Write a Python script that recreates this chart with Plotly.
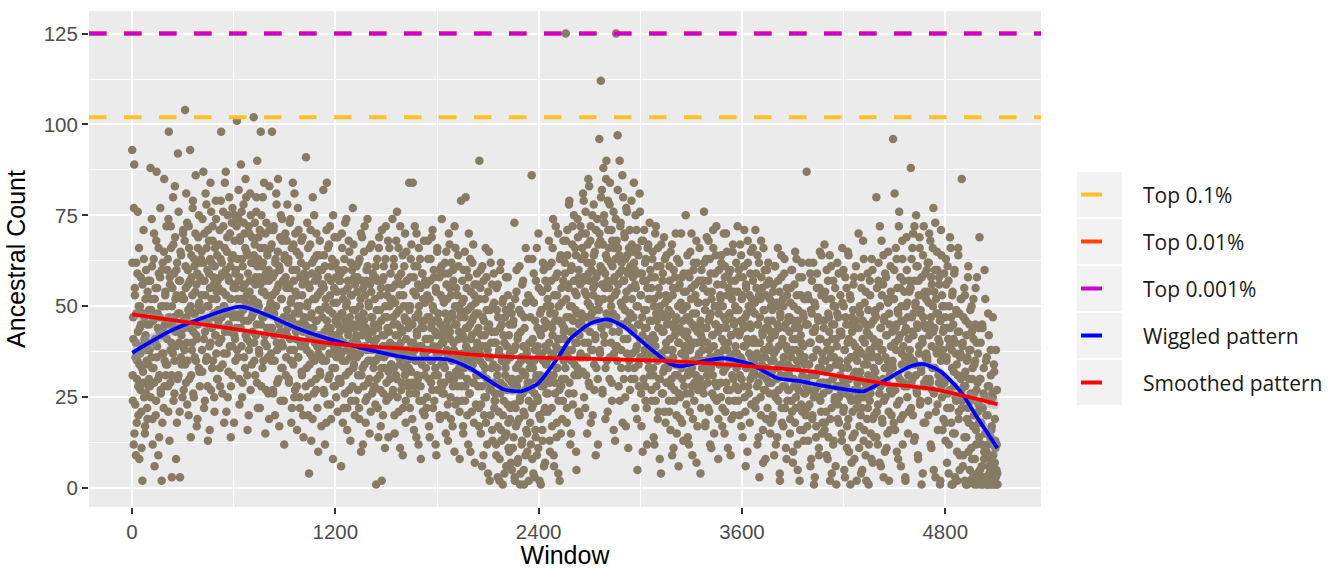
import plotly.graph_objects as go

# ---------------- data ----------------
# Ancestral count for sampled windows 1, 4, 7, ...
count_a = [
    93, 31, 47, 12, 89, 55, 23, 40, 62, 18, 35, 76, 28, 50, 8, 44, 37, 58, 21, 33, 2, 48, 29, 63, 41, 15, 52, 26, 38, 45, 19, 57, 34, 30,
    45, 28, 88, 52, 36, 61, 19, 47, 33, 70, 6, 41, 55, 24, 87, 39, 48, 30, 66, 14, 43, 58, 27, 50, 2, 37, 62, 44, 22, 85, 35, 53, 31, 46,
    50, 34, 63, 21, 98, 45, 58, 29, 72, 40, 3, 55, 37, 67, 47, 26, 83, 52, 39, 60, 18, 44, 92, 31, 57, 48, 3, 65, 36, 42, 53, 25, 70, 46,
    52, 38, 104, 61, 29, 47, 73, 35, 56, 20, 66, 44, 93, 50, 31, 58, 40, 77, 26, 48, 63, 36, 54, 86, 42, 17, 59, 45, 69, 33, 51, 28, 62, 46,
    49, 65, 32, 57, 87, 41, 70, 24, 53, 46, 78, 36, 60, 13, 50, 68, 39, 55, 84, 27, 62, 44, 72, 35, 58, 48, 21, 66, 42, 74, 52, 30, 57, 45,
    55, 40, 71, 28, 63, 98, 47, 59, 34, 76, 50, 18, 66, 43, 87, 53, 37, 69, 25, 58, 45, 80, 39, 61, 14, 52, 73, 31, 64, 48, 56, 42, 75, 35,
    60, 44, 101, 52, 36, 74, 57, 23, 68, 48, 89, 39, 63, 29, 55, 78, 46, 70, 33, 85, 51, 65, 41, 16, 59, 72, 38, 54, 81, 27, 62, 47, 69, 43,
    52, 102, 40, 67, 31, 58, 76, 45, 90, 22, 63, 50, 37, 71, 56, 98, 28, 61, 47, 80, 35, 54, 66, 42, 15, 59, 73, 39, 64, 49, 26, 57, 83, 44,
    48, 66, 35, 98, 53, 27, 71, 42, 59, 20, 63, 50, 78, 38, 55, 85, 30, 61, 45, 69, 24, 52, 40, 74, 33, 57, 47, 12, 64, 43, 58, 36, 68, 49,
    44, 62, 30, 55, 73, 38, 51, 18, 66, 46, 84, 34, 57, 25, 48, 70, 41, 60, 28, 53, 77, 36, 45, 64, 22, 50, 39, 68, 31, 56, 43, 14, 59, 47,
    40, 58, 91, 33, 50, 25, 66, 44, 4, 55, 37, 71, 29, 48, 62, 19, 52, 41, 75, 35, 57, 46, 27, 64, 39, 53, 10, 60, 42, 68, 31, 49, 36, 56,
    47, 35, 82, 55, 26, 61, 40, 52, 18, 84, 44, 66, 30, 49, 37, 72, 23, 57, 42, 63, 33, 8, 51, 39, 69, 28, 46, 58, 36, 54, 21, 45, 60, 38,
    41, 57, 29, 6, 48, 66, 35, 52, 22, 60, 44, 73, 31, 50, 38, 16, 55, 43, 68, 27, 47, 36, 62, 24, 53, 40, 77, 33, 45, 58, 20, 49, 37, 42,
    36, 54, 27, 62, 45, 19, 50, 39, 70, 31, 57, 42, 12, 48, 65, 34, 53, 24, 44, 60, 38, 74, 29, 51, 41, 15, 56, 35, 47, 67, 26, 43, 58, 33,
    40, 28, 58, 35, 1, 49, 63, 22, 44, 36, 69, 31, 53, 17, 46, 2, 57, 39, 26, 61, 42, 33, 50, 72, 24, 47, 37, 55, 14, 43, 66, 30, 52, 38,
    34, 52, 74, 27, 45, 61, 20, 39, 56, 31, 48, 76, 25, 42, 66, 36, 53, 11, 44, 59, 29, 38, 64, 22, 50, 33, 47, 70, 18, 41, 57, 35, 46, 28,
    37, 84, 26, 50, 63, 32, 45, 19, 84, 40, 58, 28, 72, 35, 53, 14, 43, 61, 30, 48, 66, 24, 39, 55, 8, 46, 34, 59, 21, 44, 68, 31, 51, 36,
    33, 56, 25, 47, 68, 38, 17, 52, 41, 63, 29, 45, 35, 71, 22, 49, 58, 31, 43, 12, 54, 37, 65, 27, 46, 39, 60, 20, 42, 53, 34, 74, 28, 44,
    40, 26, 59, 33, 48, 15, 65, 37, 52, 23, 44, 70, 30, 55, 41, 19, 62, 35, 47, 28, 57, 38, 10, 50, 66, 32, 45, 24, 53, 36, 61, 43, 21, 49,
    35, 79, 28, 51, 42, 17, 60, 33, 47, 24, 80, 39, 55, 30, 44, 12, 58, 36, 26, 63, 41, 50, 21, 46, 34, 67, 29, 53, 7, 38, 48, 31, 56, 40,
    31, 48, 22, 90, 37, 55, 15, 42, 28, 61, 34, 9, 46, 25, 52, 39, 18, 58, 30, 44, 4, 36, 65, 27, 49, 20, 40, 33, 56, 13, 43, 29, 51, 24,
    26, 43, 12, 55, 33, 3, 47, 21, 38, 8, 60, 29, 16, 45, 36, 1, 52, 24, 40, 14, 31, 49, 6, 35, 27, 58, 18, 42, 10, 37, 22, 50, 30, 5,
    30, 11, 46, 23, 73, 2, 39, 17, 54, 28, 7, 42, 34, 19, 61, 25, 4, 48, 36, 13, 32, 57, 21, 1, 44, 27, 9, 51, 38, 15, 29, 63, 24, 35,
    33, 18, 52, 27, 86, 8, 41, 23, 59, 35, 3, 46, 14, 30, 66, 25, 39, 11, 55, 20, 43, 31, 1, 49, 37, 16, 62, 28, 6, 44, 22, 57, 34, 26,
    38, 55, 21, 45, 68, 29, 10, 50, 36, 62, 17, 42, 74, 31, 6, 48, 26, 58, 39, 14, 53, 33, 70, 24, 46, 2, 41, 64, 28, 51, 19, 37, 57, 35,
    44, 62, 30, 125, 52, 18, 71, 38, 56, 26, 79, 47, 12, 60, 35, 50, 67, 23, 43, 75, 31, 54, 40, 64, 5, 48, 33, 69, 21, 58, 42, 36, 72, 46,
    48, 70, 36, 81, 57, 25, 64, 44, 76, 31, 53, 15, 67, 40, 59, 83, 28, 50, 72, 38, 62, 46, 20, 55, 78, 34, 65, 42, 9, 58, 49, 74, 30, 52,
    51, 96, 38, 68, 112, 45, 82, 27, 60, 88, 42, 73, 55, 19, 64, 90, 35, 57, 79, 47, 66, 30, 84, 52, 40, 71, 24, 61, 48, 76, 37, 58, 13, 63,
    125, 54, 39, 97, 66, 28, 59, 90, 45, 73, 33, 62, 50, 18, 80, 41, 57, 69, 25, 52, 77, 37, 64, 46, 11, 60, 35, 71, 48, 55, 30, 67, 43, 58,
    47, 84, 33, 60, 22, 55, 71, 39, 5, 50, 64, 28, 45, 76, 36, 53, 17, 59, 42, 68, 30, 49, 38, 62, 24, 57, 44, 12, 66, 35, 52, 41, 73, 31,
    39, 58, 27, 46, 65, 33, 14, 52, 41, 70, 24, 48, 36, 61, 19, 44, 55, 30, 8, 50, 37, 67, 26, 43, 59, 32, 47, 21, 63, 38, 53, 29, 45, 35,
    35, 52, 24, 61, 41, 16, 48, 30, 67, 38, 55, 11, 44, 27, 58, 34, 46, 20, 63, 31, 50, 6, 40, 56, 25, 43, 70, 33, 18, 49, 37, 59, 28, 42,
    37, 75, 26, 50, 43, 14, 59, 32, 46, 21, 65, 39, 55, 28, 9, 48, 35, 62, 24, 44, 53, 31, 68, 40, 17, 51, 36, 57, 29, 45, 4, 42, 60, 33,
    40, 57, 28, 76, 35, 49, 18, 63, 44, 31, 54, 22, 68, 38, 47, 12, 59, 33, 52, 26, 42, 71, 36, 15, 50, 29, 64, 45, 24, 56, 37, 8, 48, 34,
    36, 53, 25, 62, 44, 17, 50, 32, 70, 40, 58, 21, 46, 29, 65, 38, 11, 55, 34, 48, 27, 60, 42, 19, 52, 35, 67, 30, 45, 24, 57, 39, 49, 33,
    34, 72, 27, 49, 58, 20, 43, 36, 64, 30, 53, 14, 45, 39, 61, 25, 47, 6, 55, 33, 41, 68, 28, 50, 37, 18, 59, 44, 23, 52, 31, 66, 40, 35,
    31, 48, 71, 24, 55, 37, 12, 45, 29, 62, 3, 40, 52, 20, 58, 34, 43, 16, 66, 27, 49, 36, 8, 53, 30, 60, 22, 44, 38, 57, 26, 41, 18, 50,
    29, 46, 19, 54, 35, 9, 42, 61, 25, 38, 50, 14, 33, 57, 27, 44, 4, 48, 31, 64, 22, 40, 52, 17, 36, 59, 28, 45, 11, 39, 55, 24, 34, 47,
    27, 43, 15, 51, 33, 60, 21, 38, 7, 46, 30, 56, 18, 41, 25, 63, 35, 12, 49, 29, 44, 2, 37, 53, 23, 40, 58, 31, 16, 47, 26, 36, 52, 20,
    30, 87, 22, 45, 13, 52, 34, 27, 59, 40, 8, 48, 19, 36, 62, 25, 43, 3, 50, 31, 17, 55, 38, 28, 46, 11, 41, 65, 24, 33, 53, 15, 37, 29,
    26, 44, 67, 18, 35, 52, 9, 40, 29, 57, 14, 47, 33, 2, 38, 61, 22, 45, 30, 12, 50, 36, 24, 55, 6, 41, 28, 48, 19, 34, 59, 25, 43, 31,
    28, 43, 15, 66, 33, 21, 50, 5, 38, 58, 26, 45, 11, 35, 65, 19, 41, 30, 53, 1, 36, 24, 47, 14, 40, 56, 27, 8, 44, 32, 61, 22, 37, 29,
    25, 70, 38, 17, 48, 30, 4, 55, 22, 41, 68, 13, 34, 51, 27, 9, 45, 36, 19, 59, 31, 1, 42, 24, 53, 15, 37, 63, 28, 7, 46, 33, 20, 39,
    32, 49, 80, 21, 40, 12, 57, 35, 26, 72, 44, 6, 38, 53, 18, 30, 64, 24, 47, 10, 36, 58, 29, 42, 15, 51, 33, 2, 45, 27, 61, 39, 20, 34,
    35, 96, 27, 52, 81, 16, 44, 38, 63, 23, 49, 8, 41, 76, 30, 55, 19, 46, 34, 68, 12, 39, 57, 28, 43, 3, 50, 36, 60, 25, 47, 31, 21, 54,
    38, 55, 88, 29, 47, 66, 20, 42, 35, 72, 14, 50, 31, 61, 26, 44, 9, 57, 37, 69, 23, 48, 33, 1, 53, 40, 64, 18, 45, 28, 59, 36, 52, 30,
    36, 62, 24, 51, 70, 30, 45, 12, 58, 39, 27, 66, 43, 5, 54, 33, 73, 21, 48, 37, 60, 16, 41, 29, 56, 46, 2, 35, 64, 25, 50, 38, 19, 44,
    30, 50, 18, 63, 35, 7, 44, 26, 57, 12, 39, 69, 22, 47, 1, 33, 54, 15, 41, 28, 60, 3, 37, 24, 48, 10, 31, 66, 19, 43, 5, 36, 52, 27,
    85, 24, 40, 9, 31, 55, 2, 28, 46, 14, 35, 1, 22, 61, 18, 38, 5, 49, 26, 11, 43, 30, 3, 52, 20, 34, 8, 45, 16, 27, 58, 1, 37, 23,
    18, 69, 5, 30, 1, 22, 12, 44, 3, 26, 8, 60, 15, 2, 35, 10, 1, 20, 48, 6, 28, 1, 14, 38, 4, 17, 2, 25, 9, 1, 32, 7, 13, 3,
    1, 12, 4,
]
# Ancestral count for sampled windows 2, 5, 8, ...
count_b = [
    62, 24, 41, 77, 15, 53, 36, 9, 48, 30, 59, 43, 20, 66, 34, 50, 27, 45, 11, 39, 56, 32, 71, 25, 47, 17, 42, 60, 35, 22, 54, 40, 28, 49,
    38, 57, 25, 49, 74, 33, 12, 46, 63, 29, 52, 40, 20, 68, 36, 55, 44, 9, 59, 31, 47, 77, 26, 42, 60, 18, 50, 37, 65, 28, 45, 54, 34, 72,
    41, 60, 28, 74, 47, 13, 56, 38, 66, 31, 50, 45, 80, 24, 59, 35, 69, 43, 8, 53, 62, 30, 48, 76, 40, 21, 57, 44, 64, 34, 52, 39, 71, 27,
    44, 68, 34, 55, 81, 40, 23, 60, 49, 72, 30, 57, 45, 14, 64, 38, 53, 79, 43, 25, 61, 48, 70, 35, 56, 41, 19, 66, 50, 75, 32, 58, 46, 63,
    53, 38, 74, 46, 62, 22, 57, 43, 81, 35, 66, 50, 28, 71, 45, 59, 16, 63, 40, 76, 52, 33, 68, 47, 56, 25, 61, 42, 79, 37, 54, 64, 30, 49,
    46, 67, 33, 58, 79, 41, 62, 26, 54, 72, 37, 50, 84, 44, 60, 21, 65, 48, 75, 32, 57, 43, 70, 52, 28, 63, 39, 77, 47, 55, 18, 68, 41, 59,
    55, 72, 38, 63, 47, 82, 30, 58, 69, 44, 52, 76, 25, 61, 49, 73, 36, 56, 66, 42, 80, 53, 31, 64, 46, 20, 70, 57, 40, 75, 50, 34, 62, 48,
    48, 64, 35, 73, 56, 42, 80, 29, 61, 51, 69, 38, 58, 22, 66, 45, 75, 54, 33, 62, 47, 84, 40, 57, 70, 27, 53, 44, 65, 36, 60, 19, 71, 50,
    51, 37, 67, 44, 58, 26, 72, 48, 35, 62, 54, 81, 40, 29, 65, 46, 56, 17, 60, 43, 75, 33, 52, 68, 39, 57, 24, 63, 47, 70, 31, 55, 42, 78,
    47, 63, 29, 56, 41, 74, 35, 52, 22, 60, 45, 67, 38, 81, 27, 54, 43, 65, 16, 50, 36, 71, 48, 25, 58, 40, 62, 32, 53, 69, 20, 46, 57, 39,
    45, 28, 61, 38, 73, 51, 20, 56, 42, 34, 67, 47, 13, 59, 36, 80, 44, 26, 63, 40, 52, 30, 70, 46, 22, 58, 37, 49, 64, 32, 54, 41, 17, 60,
    39, 56, 27, 64, 43, 12, 50, 35, 71, 46, 23, 58, 40, 67, 31, 53, 44, 19, 61, 37, 48, 75, 28, 55, 42, 33, 62, 25, 51, 38, 69, 47, 30, 57,
    43, 30, 59, 37, 70, 48, 18, 54, 40, 63, 26, 46, 35, 74, 51, 22, 57, 42, 32, 65, 45, 13, 53, 38, 60, 28, 49, 67, 34, 44, 56, 24, 41, 61,
    40, 58, 31, 47, 22, 63, 37, 52, 10, 44, 69, 33, 55, 28, 46, 72, 39, 18, 57, 42, 25, 61, 35, 50, 30, 66, 43, 21, 54, 38, 47, 59, 27, 45,
    35, 52, 23, 61, 41, 30, 57, 45, 14, 66, 38, 49, 27, 55, 33, 71, 42, 20, 58, 36, 47, 11, 63, 39, 29, 53, 44, 68, 32, 25, 50, 40, 59, 34,
    39, 55, 26, 47, 63, 33, 15, 51, 42, 68, 30, 45, 37, 58, 21, 49, 34, 72, 40, 27, 56, 43, 9, 53, 36, 61, 31, 46, 24, 65, 38, 50, 29, 44,
    33, 49, 22, 58, 40, 67, 29, 45, 36, 54, 16, 61, 38, 47, 26, 70, 42, 31, 56, 12, 50, 35, 63, 28, 44, 39, 59, 24, 52, 37, 46, 20, 57, 41,
    38, 22, 53, 41, 63, 30, 47, 14, 57, 35, 44, 69, 27, 50, 39, 60, 24, 46, 33, 55, 9, 42, 66, 31, 48, 37, 58, 19, 45, 29, 61, 40, 26, 52,
    34, 51, 29, 62, 42, 20, 56, 38, 46, 13, 59, 31, 67, 43, 25, 53, 36, 48, 17, 60, 40, 30, 72, 45, 23, 55, 37, 50, 28, 64, 41, 33, 8, 47,
    31, 48, 24, 57, 37, 15, 52, 41, 65, 28, 44, 35, 60, 20, 49, 38, 70, 26, 45, 10, 54, 33, 42, 62, 29, 47, 18, 56, 36, 51, 23, 43, 59, 39,
    28, 44, 17, 52, 35, 60, 23, 39, 6, 47, 31, 57, 20, 42, 33, 66, 25, 49, 12, 38, 54, 29, 45, 2, 36, 62, 27, 43, 16, 50, 34, 59, 22, 40,
    24, 40, 9, 49, 31, 56, 17, 37, 2, 44, 26, 62, 13, 35, 51, 20, 42, 28, 4, 47, 33, 58, 15, 39, 23, 53, 11, 30, 45, 19, 36, 7, 48, 29,
    27, 45, 14, 38, 3, 52, 22, 33, 60, 18, 41, 8, 30, 49, 24, 1, 43, 35, 12, 56, 26, 39, 5, 47, 20, 31, 66, 16, 37, 10, 28, 53, 2, 40,
    29, 47, 12, 40, 22, 63, 33, 4, 51, 26, 38, 16, 57, 31, 9, 44, 24, 70, 36, 2, 48, 19, 42, 28, 54, 13, 35, 60, 21, 46, 7, 39, 30, 50,
    35, 52, 26, 61, 40, 13, 48, 31, 57, 22, 44, 66, 37, 9, 53, 29, 46, 72, 33, 18, 59, 41, 4, 50, 27, 63, 38, 15, 55, 30, 45, 24, 68, 43,
    41, 59, 33, 68, 47, 22, 64, 36, 55, 78, 29, 50, 43, 15, 61, 38, 72, 46, 26, 57, 34, 66, 49, 10, 53, 40, 74, 31, 60, 45, 20, 56, 37, 63,
    45, 66, 32, 58, 79, 40, 54, 22, 70, 47, 36, 62, 51, 85, 29, 57, 43, 68, 18, 60, 48, 75, 38, 53, 64, 27, 56, 41, 71, 33, 59, 46, 12, 67,
    49, 70, 37, 61, 80, 44, 56, 26, 67, 52, 75, 40, 59, 33, 85, 48, 63, 21, 71, 45, 55, 78, 36, 62, 50, 29, 68, 43, 57, 16, 66, 53, 39, 74,
    47, 68, 35, 82, 56, 43, 64, 24, 72, 51, 38, 60, 86, 45, 57, 30, 70, 49, 63, 17, 54, 76, 41, 59, 33, 66, 48, 27, 61, 44, 79, 52, 37, 65,
    43, 62, 30, 56, 75, 38, 50, 19, 66, 45, 34, 59, 81, 41, 53, 26, 68, 47, 10, 57, 36, 71, 44, 28, 63, 49, 22, 55, 40, 67, 33, 52, 46, 60,
    37, 55, 24, 63, 42, 31, 50, 12, 58, 39, 72, 28, 46, 35, 66, 21, 53, 44, 30, 61, 4, 48, 36, 57, 26, 43, 69, 33, 51, 18, 40, 64, 29, 47,
    33, 49, 21, 57, 38, 65, 28, 45, 9, 53, 36, 60, 24, 42, 31, 70, 47, 15, 55, 34, 40, 26, 62, 44, 19, 51, 37, 58, 30, 46, 13, 54, 39, 43,
    36, 54, 23, 47, 64, 31, 41, 12, 58, 38, 26, 52, 70, 33, 45, 19, 60, 40, 29, 56, 35, 48, 7, 62, 43, 27, 51, 37, 66, 30, 46, 22, 57, 41,
    38, 55, 26, 62, 44, 17, 51, 33, 69, 40, 29, 57, 46, 21, 63, 36, 48, 11, 54, 42, 31, 66, 39, 25, 59, 45, 35, 72, 28, 50, 43, 19, 60, 37,
    35, 52, 29, 64, 41, 22, 56, 38, 47, 15, 61, 33, 70, 44, 27, 53, 40, 59, 24, 48, 36, 9, 57, 42, 31, 65, 46, 20, 54, 37, 50, 28, 62, 43,
    37, 54, 24, 60, 42, 31, 67, 46, 17, 52, 35, 58, 28, 44, 71, 39, 21, 56, 33, 48, 10, 62, 40, 26, 53, 45, 30, 65, 36, 49, 23, 57, 41, 32,
    34, 51, 22, 59, 40, 28, 64, 45, 14, 53, 36, 47, 25, 68, 31, 55, 42, 7, 49, 38, 60, 27, 44, 19, 56, 33, 46, 62, 29, 39, 52, 15, 43, 35,
    32, 49, 20, 56, 37, 26, 61, 43, 12, 51, 30, 45, 66, 24, 39, 54, 2, 47, 34, 58, 18, 41, 28, 50, 36, 63, 22, 44, 31, 8, 53, 38, 27, 46,
    31, 47, 19, 55, 36, 24, 60, 41, 10, 50, 28, 44, 65, 22, 38, 53, 33, 5, 46, 27, 58, 35, 16, 42, 30, 62, 21, 48, 39, 13, 52, 34, 26, 45,
    28, 45, 17, 53, 34, 62, 23, 40, 6, 49, 31, 57, 20, 43, 36, 1, 51, 27, 44, 14, 38, 59, 25, 47, 33, 9, 55, 29, 41, 21, 64, 35, 18, 46,
    29, 46, 16, 54, 32, 21, 60, 38, 8, 48, 27, 43, 64, 19, 36, 52, 4, 41, 30, 57, 13, 45, 25, 50, 34, 1, 39, 62, 23, 47, 18, 35, 28, 53,
    26, 42, 13, 51, 30, 60, 22, 38, 3, 47, 28, 55, 17, 40, 33, 64, 10, 45, 25, 52, 36, 7, 43, 21, 49, 31, 58, 15, 39, 27, 46, 2, 35, 24,
    27, 44, 11, 50, 32, 20, 58, 37, 5, 46, 25, 63, 16, 40, 29, 54, 2, 43, 34, 22, 49, 12, 38, 57, 26, 45, 8, 36, 60, 19, 41, 30, 14, 48,
    30, 47, 14, 55, 36, 23, 62, 40, 7, 50, 28, 44, 68, 19, 38, 56, 3, 46, 33, 59, 25, 42, 11, 52, 35, 65, 21, 48, 31, 16, 54, 39, 26, 43,
    33, 52, 18, 60, 40, 27, 66, 45, 10, 55, 31, 48, 72, 24, 42, 58, 6, 50, 37, 63, 20, 46, 29, 54, 36, 2, 44, 69, 28, 51, 15, 41, 34, 57,
    36, 55, 22, 63, 43, 30, 70, 48, 13, 57, 34, 51, 75, 27, 45, 61, 8, 53, 39, 66, 24, 49, 32, 58, 41, 4, 47, 72, 29, 54, 18, 44, 37, 60,
    35, 54, 20, 62, 42, 29, 68, 47, 11, 56, 33, 50, 77, 26, 44, 60, 3, 52, 38, 65, 23, 48, 31, 58, 40, 1, 46, 71, 28, 53, 16, 43, 36, 59,
    29, 47, 13, 56, 36, 22, 61, 41, 4, 50, 27, 44, 66, 18, 38, 53, 1, 45, 32, 59, 15, 40, 25, 49, 34, 2, 43, 64, 21, 48, 9, 37, 30, 52,
    22, 39, 6, 47, 28, 14, 53, 32, 1, 42, 19, 36, 58, 10, 30, 45, 2, 38, 24, 50, 8, 33, 17, 41, 26, 1, 35, 55, 12, 40, 4, 29, 21, 44,
    14, 30, 2, 40, 18, 6, 45, 22, 1, 33, 10, 25, 52, 3, 20, 36, 1, 28, 12, 42, 4, 24, 8, 31, 16, 1, 26, 47, 5, 34, 2, 19, 11, 38,
    5, 27, 1,
]
window_a = list(range(1, 1 + 3 * len(count_a), 3))
window_b = list(range(2, 2 + 3 * len(count_b), 3))

# "Wiggled pattern" (loess)
wiggle_x = [1, 244, 639, 816, 977, 1170, 1365, 1643, 1861, 1997, 2192, 2293, 2393, 2511, 2588, 2706,
            2807, 2901, 3042, 3178, 3237, 3372, 3490, 3650, 3810, 3944, 4005, 4199, 4317, 4435, 4595,
            4671, 4772, 4890, 4990, 5108]
wiggle_y = [37.2, 43.6, 49.9, 47.2, 43.9, 40.9, 38.4, 35.7, 35.4, 32.9, 27.2, 26.6, 28.6, 35.7, 41.1, 45.3,
            46.4, 44.5, 39.0, 34.1, 33.5, 34.9, 35.7, 34.1, 30.2, 29.4, 28.8, 27.2, 26.6, 29.4, 33.5,
            34.1, 32.1, 26.6, 19.3, 11.0]
wiggle_se = [3.0, 1.4, 1.2, 1.1, 1.1, 1.1, 1.0, 1.0, 1.0, 1.0, 1.0, 1.0, 1.0, 1.0, 1.0, 1.0,
             1.0, 1.0, 1.0, 1.0, 1.0, 1.0, 1.0, 1.0, 1.0, 1.0, 1.0, 1.0, 1.0, 1.0, 1.0,
             1.0, 1.1, 1.2, 1.5, 2.4]

# "Smoothed pattern"
smooth_x = [1, 600, 1170, 1643, 2151, 2588, 3178, 3650, 4005, 4435, 4730, 5108]
smooth_y = [47.8, 43.8, 39.8, 38.2, 36.2, 35.7, 34.9, 33.5, 32.1, 28.8, 27.2, 23.1]
smooth_se = [1.3, 0.8, 0.6, 0.5, 0.5, 0.5, 0.5, 0.5, 0.6, 0.7, 0.9, 1.3]

# Threshold lines
threshold_names = ["Top 0.1%", "Top 0.01%", "Top 0.001%"]
threshold_values = [102, 125, 125]
threshold_colors = ["#FFC125", "#FF4500", "#CD00CD"]

legend_labels = ["Top 0.1%", "Top 0.01%", "Top 0.001%", "Wiggled pattern", "Smoothed pattern"]
legend_colors = ["#FFC125", "#FF4500", "#CD00CD", "#0000FF", "#FF0000"]

x_ticks = [0, 1200, 2400, 3600, 4800]
x_minor = [600, 1800, 3000, 4200]
y_ticks = [0, 25, 50, 75, 100, 125]
y_minor = [12.5, 37.5, 62.5, 87.5, 112.5]

# ---------------- figure ----------------
W, H = 1338, 569
ML, MR, MT, MB = 89, 297, 11, 62
PW, PH = W - ML - MR, H - MT - MB


def paper_x(px):
    return (px - ML) / PW


def paper_y(py):
    return (H - MB - py) / PH


fig = go.Figure()

fig.add_trace(go.Scatter(
    x=window_a + window_b, y=count_a + count_b, mode="markers",
    marker=dict(color="#877B64", size=8.5, line=dict(width=0)),
    hoverinfo="skip", showlegend=False,
))


def add_band(xs, ys, se):
    upper = [y + s for y, s in zip(ys, se)]
    lower = [y - s for y, s in zip(ys, se)]
    fig.add_trace(go.Scatter(
        x=list(xs) + list(xs)[::-1], y=upper + lower[::-1],
        mode="lines", line=dict(width=0, shape="spline", smoothing=0.6),
        fill="toself", fillcolor="rgba(153,153,153,0.4)",
        hoverinfo="skip", showlegend=False,
    ))


add_band(wiggle_x, wiggle_y, wiggle_se)
add_band(smooth_x, smooth_y, smooth_se)

fig.add_trace(go.Scatter(
    x=wiggle_x, y=wiggle_y, mode="lines",
    line=dict(color="#0000FF", width=3.8, shape="spline", smoothing=0.6),
    name="Wiggled pattern", showlegend=False,
))
fig.add_trace(go.Scatter(
    x=smooth_x, y=smooth_y, mode="lines",
    line=dict(color="#FF0000", width=3.8, shape="spline", smoothing=0.6),
    name="Smoothed pattern", showlegend=False,
))

shapes = []
for val, col in zip(threshold_values, threshold_colors):
    shapes.append(dict(
        type="line", xref="x domain", yref="y", x0=0, x1=1, y0=val, y1=val,
        line=dict(color=col, width=4, dash="17.5px,17.5px"), layer="above",
    ))

# legend drawn ggplot-style
annotations = []
box_top0, box_h, box_step = 172, 45, 47
for i, (lab, col) in enumerate(zip(legend_labels, legend_colors)):
    top = box_top0 + i * box_step
    cy = top + box_h / 2
    shapes.append(dict(
        type="rect", xref="paper", yref="paper",
        x0=paper_x(1077), x1=paper_x(1122), y0=paper_y(top + box_h), y1=paper_y(top),
        fillcolor="#F2F2F2", line=dict(width=0), layer="below",
    ))
    shapes.append(dict(
        type="line", xref="paper", yref="paper",
        x0=paper_x(1081), x1=paper_x(1102), y0=paper_y(cy), y1=paper_y(cy),
        line=dict(color=col, width=4),
    ))
    annotations.append(dict(
        xref="paper", yref="paper", x=paper_x(1141), y=paper_y(cy),
        xanchor="left", yanchor="middle", text=lab, showarrow=False,
        font=dict(family="Open Sans", size=21, color="#1A1A1A"),
    ))

axis_common = dict(
    showgrid=True, gridcolor="white", gridwidth=1.8, zeroline=False,
    ticks="outside", ticklen=6, tickwidth=2, tickcolor="#333333",
    tickfont=dict(family="Liberation Sans", size=20.5, color="#4D4D4D"),
    showline=False, automargin=False,
)

fig.update_layout(
    width=W, height=H,
    margin=dict(l=ML, r=MR, t=MT, b=MB),
    paper_bgcolor="white", plot_bgcolor="#EBEBEB",
    showlegend=False,
    shapes=shapes, annotations=annotations,
    xaxis=dict(
        range=[-254, 5365], tickmode="array", tickvals=x_ticks,
        ticktext=[str(v) for v in x_ticks],
        minor=dict(tickmode="array", tickvals=x_minor, showgrid=True,
                   gridcolor="white", gridwidth=0.9, ticklen=0),
        title=dict(text="Window", standoff=3,
                   font=dict(family="Liberation Sans", size=25, color="black")),
        **axis_common,
    ),
    yaxis=dict(
        range=[-5.2, 131.2], tickmode="array", tickvals=y_ticks,
        ticktext=[str(v) for v in y_ticks],
        minor=dict(tickmode="array", tickvals=y_minor, showgrid=True,
                   gridcolor="white", gridwidth=0.9, ticklen=0),
        title=dict(text="Ancestral Count", standoff=10,
                   font=dict(family="Liberation Sans", size=25, color="black")),
        **axis_common,
    ),
)

fig.write_html("out.html", config={"displayModeBar": False},
               post_script="document.body.style.margin='0px';")
